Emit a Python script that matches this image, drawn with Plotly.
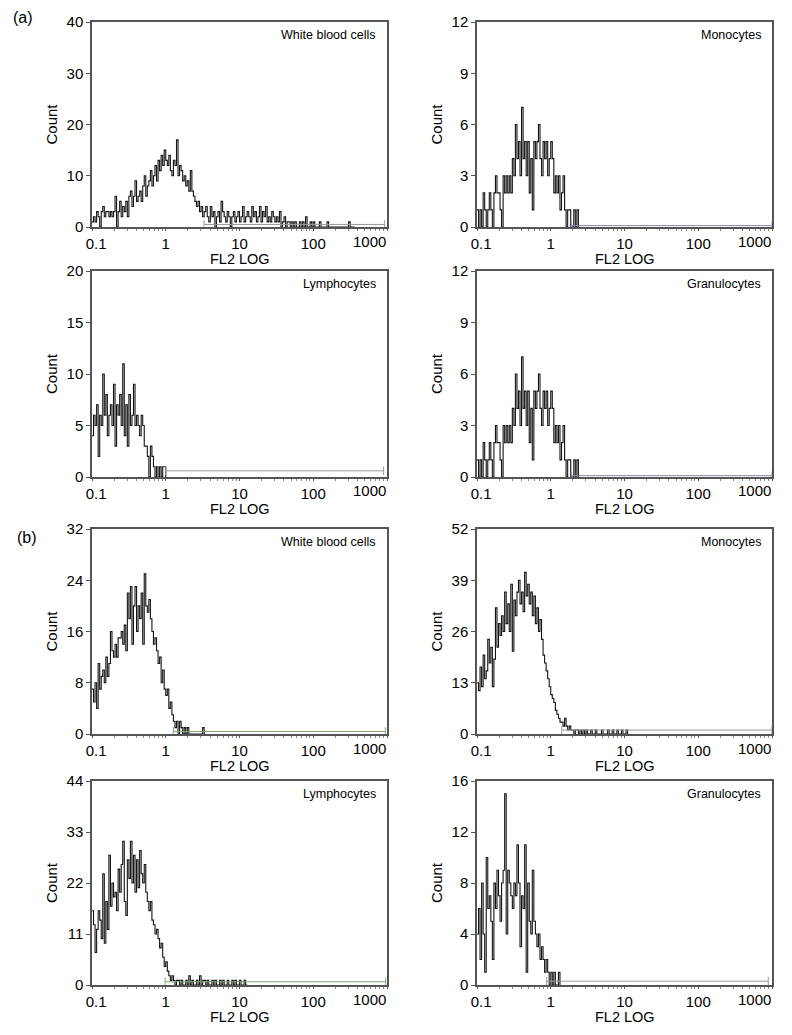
import plotly.graph_objects as go

# ---------------- data (counts per channel, 48 channels per decade from 0.1) ----------------
CH_PER_DECADE = 48
X_START = 0.1

wbc_a = [1, 2, 1, 3, 2, 0, 3, 4, 2, 3, 3, 2, 3, 2, 3, 6,
         0, 3, 5, 2, 4, 3, 5, 2, 6, 7, 4, 6, 9, 5, 6,
         7, 5, 8, 10, 6, 8, 9, 11, 8,
         10, 12, 9, 13, 11, 14, 12, 15,
         13, 12, 14, 11, 10, 13, 12, 17, 10, 12,
         11, 9, 10, 8, 9, 7, 11, 7, 6,
         5, 4, 5, 3, 4, 2, 3, 4, 2,
         1, 4, 2, 3, 0, 2, 3, 1, 5, 3, 2, 1, 3, 2, 0, 2, 3, 1, 2, 3,
         1, 2, 4, 1, 2, 3, 2, 1, 4, 2, 3, 1, 2, 4, 1, 3, 2, 4, 1, 2, 1, 3, 2, 1, 2,
         1, 3, 0, 1, 2, 0, 1, 1, 0, 1,
         0, 1, 0, 0, 1, 0, 1, 0, 2, 0, 0, 1, 0, 1, 0, 0, 0, 1, 0, 0,
         0, 0, 1, 0, 0, 0, 0, 0, 0, 0, 0, 0, 0, 0, 0, 0, 1, 0, 0, 0]

mono_a = [1, 0, 1, 0, 2, 1, 0, 1, 2, 1,
          0, 2, 3, 2, 2, 1, 0, 3, 2, 3,
          2, 3, 2, 4, 3, 6, 4, 5, 3, 7,
          4, 5, 3, 5, 2, 4, 1, 5, 4, 5,
          6, 4, 3, 5, 4, 5, 3, 4, 5, 4,
          2, 3, 2, 3, 1, 2, 3, 1, 0, 1,
          1, 0, 0, 1, 0, 1]

lymph_a = [4, 6, 5, 7, 2, 6, 5, 10, 6, 8, 4, 6, 7, 5, 9, 3, 7, 6, 8, 5, 11, 4, 7, 3,
           8, 5, 6, 9, 5, 6, 5, 4, 6, 5, 3, 3, 2, 0, 3, 2, 1, 0, 1, 0, 1, 0, 1, 1]

gran_a = [1, 0, 1, 0, 2, 1, 0, 1, 2, 1,
          0, 2, 3, 2, 2, 1, 0, 3, 2, 3,
          2, 3, 2, 4, 3, 6, 4, 5, 3, 7,
          4, 5, 3, 5, 2, 4, 1, 5, 4, 5,
          6, 4, 3, 5, 4, 5, 3, 4, 5, 4,
          2, 3, 2, 3, 1, 2, 3, 1, 0, 1,
          1, 0, 0, 1, 0, 1]

wbc_b = [7, 5, 8, 4, 11, 7, 9, 10, 8, 12, 9, 11,
         16, 13, 12, 14, 12, 15, 15, 16, 14, 17, 13, 22,
         18, 23, 14, 20, 23, 16, 20, 18, 22, 14, 25, 20,
         19, 21, 18, 16, 14, 15, 13, 11, 12, 8, 10, 7,
         6, 7, 4, 5, 3, 2, 1, 2, 0, 2, 1, 0,
         1, 0, 1, 0, 0, 0, 0, 0, 0, 0, 0, 0, 1]

mono_b = [13, 11, 17, 12, 20, 14, 16,
          24, 18, 22, 12, 19, 32,
          22, 28, 25, 30, 26, 36,
          28, 33, 26, 38, 21, 34,
          30, 36, 39, 33, 36, 31, 41,
          35, 38, 33, 36, 30, 35, 28, 32, 26,
          29, 24, 20, 18, 16, 14, 12,
          10, 9, 8, 6, 5, 4, 3,
          3, 2, 4, 2, 1, 2, 1,
          1, 0, 1, 1, 0, 1, 0, 1, 0, 1, 0, 0, 1,
          0, 0, 1, 0, 0, 0, 1, 0, 0, 0, 1, 0, 0, 1, 0, 0, 1, 0, 0, 1, 0, 0, 1]

lymph_b = [16, 13, 7, 12, 16, 14, 10,
           24, 9, 18, 12, 28, 17,
           22, 19, 20, 16, 25, 20,
           26, 31, 18, 15, 27, 23,
           31, 22, 28, 20, 27, 21,
           29, 24, 22, 26, 20, 18,
           16, 18, 14, 13, 11, 12, 10, 8,
           9, 6, 4, 5, 3,
           2, 1, 2, 1, 0, 1, 1, 0,
           1, 0, 0, 1, 0, 2, 0, 1, 0, 0, 1, 0, 2, 0, 1, 1, 0, 1, 0, 0, 1, 0,
           1, 0, 0, 1, 0, 1, 0, 0, 1, 0, 0, 1, 0, 1, 0, 0, 1, 0, 0, 1, 0]

gran_b = [4, 6, 2, 8, 4, 1,
          10, 6, 7, 5, 2, 8,
          6, 9, 7, 5, 8, 9,
          15, 4, 9, 8, 7, 6,
          8, 7, 11, 8, 3, 7,
          6, 11, 1, 8, 5, 4,
          9, 5, 4, 3, 4, 2,
          3, 2, 1, 2, 1, 0,
          1, 0, 1, 0, 0, 1]

series = [wbc_a, mono_a, lymph_a, gran_a, wbc_b, mono_b, lymph_b, gran_b]
panel_names = ["White blood cells", "Monocytes", "Lymphocytes", "Granulocytes",
               "White blood cells", "Monocytes", "Lymphocytes", "Granulocytes"]
y_max = [40, 12, 20, 12, 32, 52, 44, 16]
y_step = [10, 3, 5, 3, 8, 13, 11, 4]

# marker (gate) bars
gate_start = [3.3, 1.9, 1.0, 1.9, 1.27, 1.41, 0.98, 0.88]
gate_end = [930, 1000, 900, 1000, 950, 1000, 960, 890]
gate_level = [0.5, 0.08, 0.6, 0.08, 0.4, 1.0, 0.7, 0.3]
gate_color = ["#9a9a9a", "#8a8aa8", "#9a9a9a", "#8a8aa8",
              "#7fa870", "#9a9a9a", "#7fa870", "#9a9a9a"]

# x tick labels; the last one ("1000") sits flush with the axis end as in the original
x_tickvals = [0.1, 1, 10, 100, 1000]
x_ticktext = ["\u00a0\u00a00.1", "1", "10", "100", ""]
x_end_label = "1000"
x_title = "FL2 LOG"
y_title = "Count"
section_labels = ["(a)", "(b)"]

# ---------------- layout geometry (window pixels; page body has an 8px margin) ----------------
PAGE_MARGIN = 8
WIN_W, WIN_H = 792, 1035
W, H = WIN_W - 2 * PAGE_MARGIN, WIN_H - 2 * PAGE_MARGIN
cols = [(92, 387), (477, 772)]
rows = [(22, 227), (271, 477), (529, 734), (781, 985)]


def fx(px):
    return (px - PAGE_MARGIN) / W


def fy(py):
    return 1 - (py - PAGE_MARGIN) / H


FONT = "Liberation Sans, Arial, sans-serif"
AX_COLOR = "#555555"
TICK_SIZE = 14

fig = go.Figure()
layout_axes = {}
annotations = []

for k, counts in enumerate(series):
    r, c = divmod(k, 2)
    x0, x1 = cols[c]
    top, bot = rows[r]
    xa = "x" if k == 0 else f"x{k+1}"
    ya = "y" if k == 0 else f"y{k+1}"
    xs = [X_START * 10 ** (i / CH_PER_DECADE) for i in range(len(counts) + 1)]
    ys = list(counts) + [0]
    fig.add_trace(go.Scatter(x=xs, y=ys, mode="lines", line=dict(color="#141414", width=1.1, shape="hv"),
                             xaxis=xa, yaxis=ya, showlegend=False, hoverinfo="skip"))
    fig.add_trace(go.Scatter(x=[gate_start[k], gate_end[k]], y=[gate_level[k], gate_level[k]],
                             mode="lines+markers",
                             line=dict(color=gate_color[k], width=1),
                             marker=dict(symbol="line-ns", size=6, line=dict(color=gate_color[k], width=1)),
                             xaxis=xa, yaxis=ya, showlegend=False, hoverinfo="skip"))
    xkey = "xaxis" if k == 0 else f"xaxis{k+1}"
    ykey = "yaxis" if k == 0 else f"yaxis{k+1}"
    layout_axes[xkey] = dict(
        domain=[fx(x0), fx(x1)], anchor=ya, type="log", range=[-1, 3],
        tickmode="array", tickvals=x_tickvals, ticktext=x_ticktext,
        ticks="outside", ticklen=2, tickcolor=AX_COLOR,
        minor=dict(ticks="outside", ticklen=2, tickcolor="#888888", dtick="D1", showgrid=False),
        showline=True, linecolor=AX_COLOR, linewidth=1.5, mirror=True,
        showgrid=False, zeroline=False, automargin=False,
        tickfont=dict(family=FONT, size=TICK_SIZE + 1, color="black"),
    )
    layout_axes[ykey] = dict(
        domain=[fy(bot), fy(top)], anchor=xa, range=[0, y_max[k]],
        tickmode="linear", tick0=0, dtick=y_step[k],
        ticks="outside", ticklen=4, tickcolor=AX_COLOR,
        showline=True, linecolor=AX_COLOR, linewidth=1.5, mirror=True,
        showgrid=False, zeroline=False, automargin=False,
        tickfont=dict(family=FONT, size=TICK_SIZE + 1, color="black"),
        title=dict(text=y_title, font=dict(family=FONT, size=15, color="black"), standoff=5),
    )
    annotations.append(dict(
        text=panel_names[k], xref=f"{xa} domain", yref=f"{ya} domain", x=1, y=1,
        xanchor="right", yanchor="top", xshift=-9, yshift=-4, showarrow=False,
        font=dict(family=FONT, size=12.5, color="black")))
    annotations.append(dict(
        text=x_end_label, xref=f"{xa} domain", yref=f"{ya} domain", x=1, y=0,
        xanchor="right", yanchor="middle", xshift=1, yshift=-14, showarrow=False,
        font=dict(family=FONT, size=TICK_SIZE + 1, color="black")))
    annotations.append(dict(
        text=x_title, xref=f"{xa} domain", yref=f"{ya} domain", x=0.5, y=0,
        xanchor="center", yanchor="middle", yshift=-32, showarrow=False,
        font=dict(family=FONT, size=14.5, color="black")))

annotations.append(dict(text=section_labels[0], xref="paper", yref="paper", x=fx(23), y=fy(18),
                        xanchor="center", yanchor="middle", showarrow=False,
                        font=dict(family=FONT, size=16, color="black")))
annotations.append(dict(text=section_labels[1], xref="paper", yref="paper", x=fx(27), y=fy(537),
                        xanchor="center", yanchor="middle", showarrow=False,
                        font=dict(family=FONT, size=16, color="black")))

fig.update_layout(
    width=W, height=H, autosize=False,
    margin=dict(l=0, r=0, t=0, b=0),
    paper_bgcolor="white", plot_bgcolor="white",
    annotations=annotations,
    **layout_axes,
)

fig.write_html("out.html")
